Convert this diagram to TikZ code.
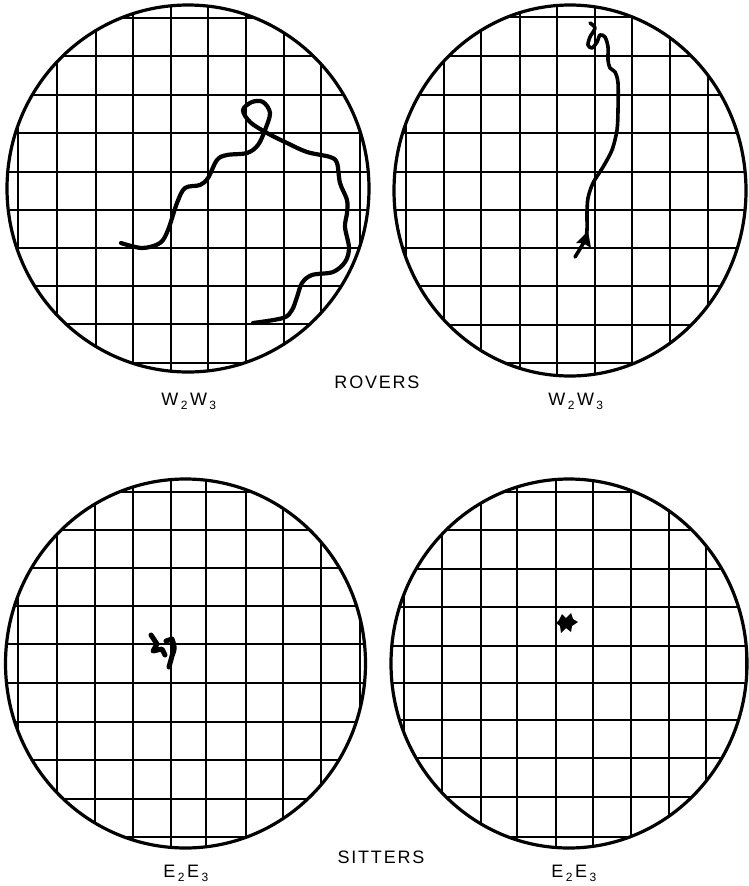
\documentclass[tikz,border=0pt]{standalone}
\usepackage{fontspec}
\newfontfamily\lblfont[LetterSpace=10]{Liberation Sans}
\newcommand{\lsub}[1]{\kern2.5pt\raisebox{-4.5pt}{\fontsize{12}{12}\selectfont #1}\kern2.5pt}
\tikzset{
  rim/.style={line width=3.2pt},
  gridline/.style={line width=1.1pt},
  track/.style={line width=4.2pt, line cap=round, line join=round},
  lbl/.style={font=\lblfont\fontsize{18}{20}\selectfont, inner sep=0pt, anchor=base},
}
\begin{document}
\begin{tikzpicture}[x=1pt,y=-1pt]
\useasboundingbox (0,0) rectangle (748,886);
\fill[white] (0,0) rectangle (748,886);

% ---------- top-left dish ----------
\begin{scope}
\clip (188,188.5) ellipse [x radius=181, y radius=183.5];
\foreach \x in {18,57,96,133,171,208,246,284,321,360}
  \draw[gridline] (\x,0) -- (\x,380);
\foreach \y in {18,56,95,133,172,210,248,286,324,363}
  \draw[gridline] (0,\y) -- (380,\y);
\end{scope}
\draw[rim] (188,188.5) ellipse [x radius=181, y radius=183.5];
\draw[track] plot[smooth, tension=0.55] coordinates {
 (121,243) (142,248) (160,243) (168,230) (177,203) (185,188) (200,185)
 (208,178) (217,160) (227,155) (247,153) (258,145) (265,130) (270,113)
 (263,102) (252,102) (243,110) (250,122) (267,133) (287,143) (307,152)
 (330,157) (337,163) (340,183) (347,200) (347,213) (345,227) (349,248)
 (345,262) (333,272) (312,275) (302,283) (297,297) (292,310) (283,318) (253,323)};

% ---------- top-right dish ----------
\begin{scope}
\clip (570,190.5) ellipse [x radius=176, y radius=185.5];
\foreach \x in {406,444,481,520,557,595,632,670,708,746}
  \draw[gridline] (\x,0) -- (\x,380);
\foreach \y in {17,56,95,133,172,210,248,286,325,363}
  \draw[gridline] (380,\y) -- (760,\y);
\end{scope}
\draw[rim] (570,190.5) ellipse [x radius=176, y radius=185.5];
\draw[track, line width=3.6pt] plot[smooth, tension=0.5] coordinates {
 (590,23) (595,28) (590,37) (588,45) (592,48) (597,42) (600,35) (605,37)
 (608,47) (608,60) (610,68) (615,72) (618,83) (618,110) (617,130) (612,150)
 (603,167) (593,183) (588,198) (587,213) (587,230) (585,240) (575,257)};
\fill (588,231) -- (576,243) -- (583,243) -- (591,248) -- cycle;

% ---------- bottom-left dish ----------
\begin{scope}
\clip (185.5,663.5) ellipse [x radius=180, y radius=184.5];
\foreach \x in {18,57,95,133,171,206,246,283,321,360}
  \draw[gridline] (\x,470) -- (\x,860);
\foreach \y in {492,530,568,606,644,683,722,760,799,837}
  \draw[gridline] (0,\y) -- (380,\y);
\end{scope}
\draw[rim] (185.5,663.5) ellipse [x radius=180, y radius=184.5];
\draw[track, line width=5pt] (151,635) -- (157,644) -- (153,651) -- (162,649) -- (165,655);
\draw[track, line width=5pt] (166,641) -- (172,639) .. controls (175,648) .. (172,656) -- (169,667);

% ---------- bottom-right dish ----------
\begin{scope}
\clip (569,663.5) ellipse [x radius=178, y radius=184.5];
\foreach \x in {404,442,481,517,556,593,631,669,706,746}
  \draw[gridline] (\x,470) -- (\x,860);
\foreach \y in {492,530,569,607,646,683,720,758,797,837}
  \draw[gridline] (380,\y) -- (760,\y);
\end{scope}
\draw[rim] (569,663.5) ellipse [x radius=178, y radius=184.5];
\fill (559,620) -- (562,614) -- (566,618) -- (571,613) -- (573,619) -- (578,622)
  -- (572,626) -- (571,632) -- (566,628) -- (561,633) -- (560,626) -- (556,623) -- cycle;

% ---------- labels ----------
\node[lbl] (rovers) at (377,388) {ROVERS};
\node[lbl] (wl) at (190,405) {W\lsub{2}W\lsub{3}};
\node[lbl] (wr) at (577,405) {W\lsub{2}W\lsub{3}};
\node[lbl] (sitters) at (381,863) {SITTERS};
\node[lbl] (el) at (187,877) {E\lsub{2}E\lsub{3}};
\node[lbl] (er) at (575,877) {E\lsub{2}E\lsub{3}};
\end{tikzpicture}
\end{document}
